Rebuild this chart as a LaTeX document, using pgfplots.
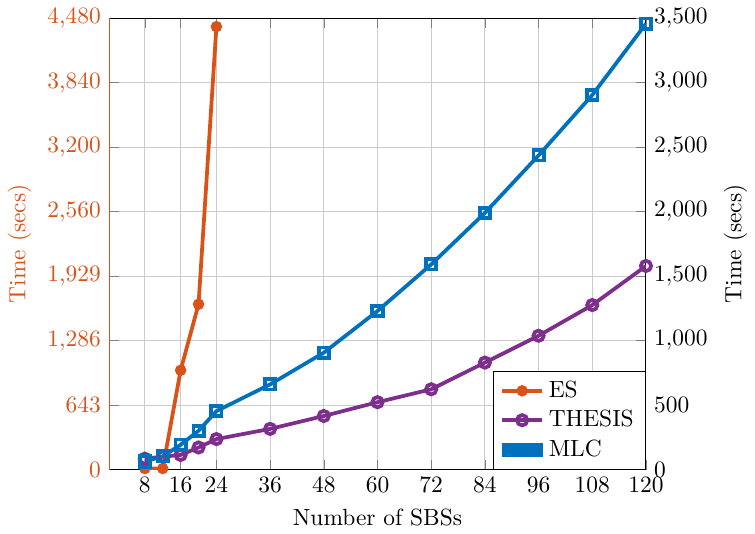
\documentclass[border=0pt]{standalone}
\usepackage{pgfplots}
\pgfplotsset{compat=1.18}
\definecolor{esOrange}{RGB}{217,83,25}
\definecolor{thPurple}{RGB}{126,47,142}
\definecolor{mlcBlue}{RGB}{0,114,189}
\begin{document}
\begin{tikzpicture}
\begin{axis}[
    width=9.63cm, height=8.35cm,
    xmin=0, xmax=120, ymin=0, ymax=4480,
    xtick={8,16,24,36,48,60,72,84,96,108,120},
    ytick={0,640,1280,1920,2560,3200,3840,4480},
    yticklabels={0,643,{1,286},{1,929},{2,560},{3,200},{3,840},{4,480}},
    axis y line*=left,
    y axis line style={esOrange},
    yticklabel style={text=esOrange},
    ylabel={Time (secs)}, ylabel style={text=esOrange},
    xlabel={Number of SBSs},
    grid=major, grid style={gray!40},
    tick align=inside,
]
\addplot[esOrange, line width=1.6pt, mark=*, mark size=1.6pt] coordinates {
    (8,10) (12,10) (16,985) (20,1640) (24,4394)
};
\end{axis}
\begin{axis}[
    width=9.63cm, height=8.35cm,
    xmin=0, xmax=120, ymin=0, ymax=3500,
    axis x line=none,
    axis y line*=right,
    ytick={0,500,...,3500},
    ylabel={Time (secs)},
    legend style={at={(1,0)}, anchor=south east, fill=white, draw=black, font=\normalsize},
    legend cell align=left,
]
\addlegendimage{esOrange, line width=1.6pt, mark=*, mark size=1.6pt}
\addlegendentry{ES}
\addplot[thPurple, line width=1.6pt, mark=o, mark size=2.2pt, mark options={fill=white}] coordinates {
    (8,84) (12,100) (16,113) (20,171) (24,236) (36,315) (48,415)
    (60,522) (72,622) (84,829) (96,1037) (108,1275) (120,1578)
};
\addlegendentry{THESIS}
\addplot[mlcBlue, line width=1.6pt, mark=square, mark size=2.2pt, forget plot] coordinates {
    (8,62) (12,102) (16,192) (20,300) (24,453) (36,660) (48,906)
    (60,1229) (72,1590) (84,1989) (96,2435) (108,2903) (120,3456)
};
\addlegendimage{area legend, draw=mlcBlue, fill=mlcBlue}
\addlegendentry{MLC}
\end{axis}
\end{tikzpicture}
\end{document}
